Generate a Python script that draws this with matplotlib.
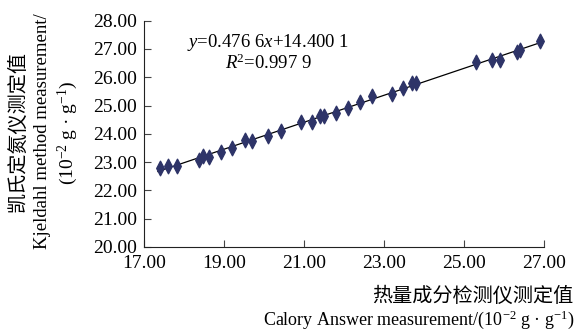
import numpy as np
import matplotlib
matplotlib.use("Agg")
import matplotlib.pyplot as plt
from matplotlib.path import Path as MPath

# Calory Answer vs Kjeldahl readings (10^-2 g/g)
calory = [17.40, 17.60, 17.83, 18.38, 18.48, 18.63, 18.93, 19.20, 19.53, 19.70,
          20.10, 20.43, 20.93, 21.20, 21.40, 21.50, 21.80, 22.10, 22.40, 22.70,
          23.20, 23.48, 23.70, 23.80, 25.30, 25.70, 25.90, 26.33, 26.40, 26.90]
kjeldahl = [22.80, 22.86, 22.88, 23.08, 23.20, 23.18, 23.36, 23.50, 23.77, 23.75,
            23.92, 24.10, 24.42, 24.42, 24.62, 24.64, 24.72, 24.91, 25.12, 25.33,
            25.41, 25.62, 25.80, 25.81, 26.53, 26.60, 26.62, 26.88, 26.97, 27.28]
slope = 0.4766
intercept = 14.4001
x_ticks = [17, 19, 21, 23, 25, 27]
y_ticks = [20, 21, 22, 23, 24, 25, 26, 27, 28]

SERIF = ["Liberation Serif", "DejaVu Serif"]
CJK = ["Noto Sans CJK SC", "DejaVu Sans"]

plt.rcParams["font.family"] = SERIF
plt.rcParams["mathtext.fontset"] = "custom"
plt.rcParams["mathtext.rm"] = "Liberation Serif"
plt.rcParams["mathtext.it"] = "Liberation Serif:italic"

# narrow diamond, roughly twice as tall as wide
slim_diamond = MPath([(0, 1), (0.52, 0), (0, -1), (-0.52, 0), (0, 1)],
                     [MPath.MOVETO, MPath.LINETO, MPath.LINETO, MPath.LINETO,
                      MPath.CLOSEPOLY])

fig = plt.figure(figsize=(5.78, 3.34), dpi=100)
ax = fig.add_axes([0.249, 0.2605, 0.692, 0.6775])

ax.plot(calory, kjeldahl, linestyle="none", marker=slim_diamond, markersize=10.5,
        color="#2e3468", zorder=3)
xs = np.array([min(calory) - 0.05, max(calory)])
ax.plot(xs, slope * xs + intercept, color="black", linewidth=0.9, zorder=2)

ax.set_xlim(17, 27)
ax.set_ylim(20, 28)
ax.set_xticks(x_ticks)
ax.set_xticklabels([f"{v:.2f}" for v in x_ticks])
ax.set_yticks(y_ticks)
ax.set_yticklabels([f"{v:.2f}" for v in y_ticks])
ax.tick_params(direction="in", length=5, width=0.8, labelsize=14,
               color="#444444")
ax.tick_params(axis="x", pad=6)
ax.tick_params(axis="y", pad=5)
for side in ["top", "right"]:
    ax.spines[side].set_visible(False)
for side in ["left", "bottom"]:
    ax.spines[side].set_linewidth(0.8)
    ax.spines[side].set_color("#222222")

ax.text(0.31, 0.905, "$y$=0.476 6$x$+14.400 1", transform=ax.transAxes,
        ha="center", va="center", fontsize=13.5)
ax.text(0.31, 0.812, "$R$$^2$=0.997 9", transform=ax.transAxes,
        ha="center", va="center", fontsize=13.5)

# y label, three lines
fig.text(18 / 578, 1 - 131 / 334, "凯氏定氮仪测定值", rotation=90,
         ha="center", va="center", fontsize=14.5, family=CJK)
fig.text(43 / 578, 1 - 131 / 334, "Kjeldahl method measurement/", rotation=90,
         ha="center", va="center", fontsize=13.5)
fig.text(68 / 578, 1 - 133 / 334, "(10$^{-2}$ g · g$^{-1}$)", rotation=90,
         ha="center", va="center", fontsize=14)

# x label, two lines
fig.text(573 / 578, 1 - 296 / 334, "热量成分检测仪测定值", ha="right",
         va="center", fontsize=14.5, family=CJK)
fig.text(575 / 578, 3 / 334, "Calory Answer measurement/(10$^{-2}$ g · g$^{-1}$)",
         ha="right", va="bottom", fontsize=13)

fig.savefig("out.png", dpi=100)
